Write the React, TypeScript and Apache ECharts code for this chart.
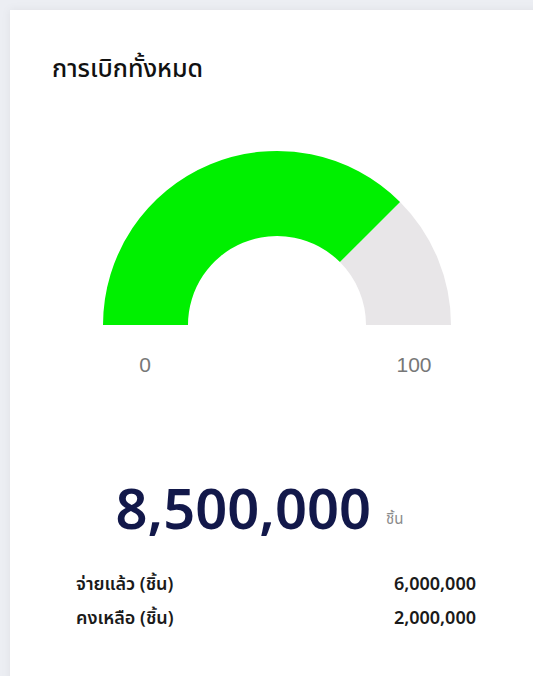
import React, { useEffect, useRef } from "react";
import * as echarts from "echarts";

const title = "การเบิกทั้งหมด";
const unit = "ชิ้น";
const totalValue = 8500000;
const rowLabels = ["จ่ายแล้ว (ชิ้น)", "คงเหลือ (ชิ้น)"];
const rowValues = [6000000, 2000000];
const gaugeMin = 0;
const gaugeMax = 100;
const tickLabels = ["0", "100"];
const gaugeValue = 75;

const fmt = (n: number) => n.toLocaleString("en-US");
const THAI = "'Noto Sans', 'Noto Sans Thai', 'Loma', 'Garuda', sans-serif";

export default function App() {
  const ref = useRef<HTMLDivElement>(null);
  useEffect(() => {
    if (!ref.current) return;
    const chart = echarts.init(ref.current, undefined, { renderer: "svg" });
    const frac = (gaugeValue - gaugeMin) / (gaugeMax - gaugeMin);
    chart.setOption({
      animation: false,
      backgroundColor: "#eceef3",
      graphic: [
        {
          type: "rect",
          z: 0,
          shape: { x: 10, y: 10, width: 540, height: 680 },
          style: {
            fill: "#ffffff",
            shadowBlur: 8,
            shadowColor: "rgba(0,0,0,0.06)",
          },
        },
        {
          type: "text",
          z: 5,
          x: 52,
          y: 67,
          style: {
            text: title,
            font: `500 25px ${THAI}`,
            fill: "#111111",
            align: "left",
            verticalAlign: "middle",
          },
        },
        {
          type: "text",
          z: 5,
          x: 145,
          y: 364,
          style: {
            text: tickLabels[0],
            font: "21px 'Liberation Sans', Arial, sans-serif",
            fill: "#777777",
            align: "center",
            verticalAlign: "middle",
          },
        },
        {
          type: "text",
          z: 5,
          x: 414,
          y: 364,
          style: {
            text: tickLabels[1],
            font: "21px 'Liberation Sans', Arial, sans-serif",
            fill: "#777777",
            align: "center",
            verticalAlign: "middle",
          },
        },
        {
          type: "text",
          z: 5,
          x: 371,
          y: 507,
          style: {
            text: fmt(totalValue),
            font: `600 56px ${THAI}`,
            fill: "#12184a",
            align: "right",
            verticalAlign: "middle",
          },
        },
        {
          type: "text",
          z: 5,
          x: 386,
          y: 518,
          style: {
            text: unit,
            font: `15px ${THAI}`,
            fill: "#8a8a8a",
            align: "left",
            verticalAlign: "middle",
          },
        },
        ...rowLabels.flatMap((lab, i) => [
          {
            type: "text",
            z: 5,
            x: 76,
            y: 583 + i * 34,
            style: {
              text: lab,
              font: `600 18px ${THAI}`,
              fill: "#1a1a1a",
              align: "left",
              verticalAlign: "middle",
            },
          },
          {
            type: "text",
            z: 5,
            x: 476,
            y: 583 + i * 34,
            style: {
              text: fmt(rowValues[i]),
              font: `600 18px ${THAI}`,
              fill: "#1a1a1a",
              align: "right",
              verticalAlign: "middle",
            },
          },
        ]),
      ],
      series: [
        {
          type: "gauge",
          z: 3,
          center: [277, 325],
          radius: 174,
          startAngle: 180,
          endAngle: 0,
          min: gaugeMin,
          max: gaugeMax,
          axisLine: {
            lineStyle: {
              width: 85,
              color: [
                [frac, "#00f000"],
                [1, "#e8e6e8"],
              ],
            },
          },
          splitLine: { show: false },
          axisTick: { show: false },
          axisLabel: { show: false },
          pointer: { show: false },
          anchor: { show: false },
          title: { show: false },
          detail: { show: false },
          data: [{ value: gaugeValue }],
        },
      ],
    });
    return () => chart.dispose();
  }, []);
  return (
    <div
      ref={ref}
      style={{ position: "fixed", left: 0, top: 0, width: 533, height: 676 }}
    />
  );
}
